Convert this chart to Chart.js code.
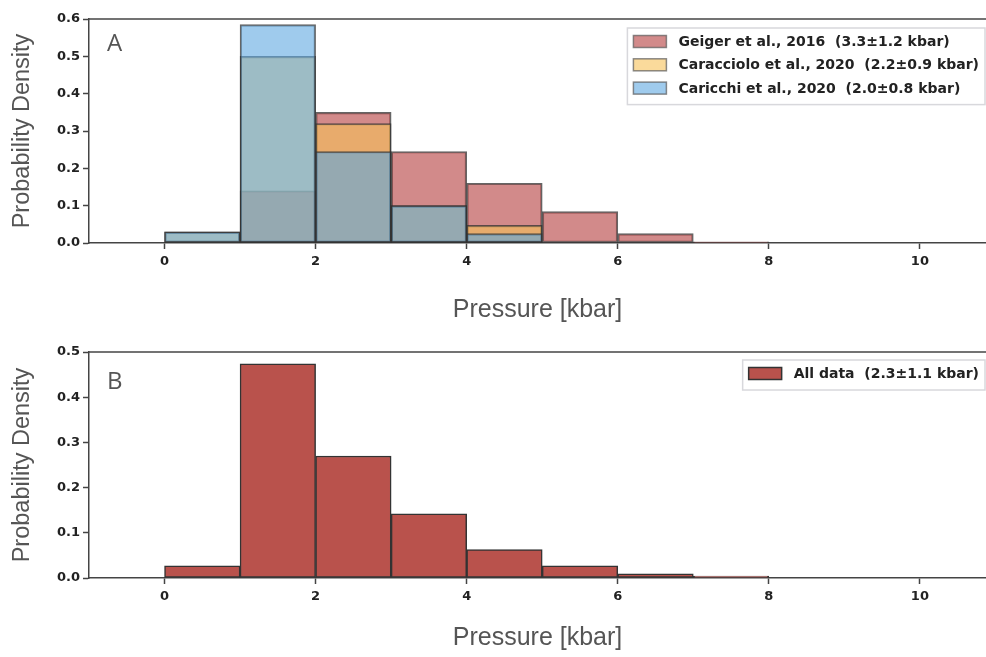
<!DOCTYPE html>
<html>
<head>
<meta charset="utf-8">
<script src="https://cdn.jsdelivr.net/npm/chart.js@4.4.1/dist/chart.umd.min.js"></script>
<style>
  body { margin: 0; background: #fff; }
  #wrap { position: relative; width: 986px; height: 657px; }
  #wrap canvas { position: absolute; left: 0; }
</style>
</head>
<body>
<div id="wrap">
  <canvas id="chart-a" width="986" height="330" style="top:0"></canvas>
  <canvas id="chart-b" width="986" height="327" style="top:330px"></canvas>
</div>
<script>
// Histogram bins (kbar), 1 kbar wide
const binStarts = [0, 1, 2, 3, 4, 5, 6, 7];

// Probability density per bin
const geiger     = [0, 0.14, 0.35, 0.245, 0.16, 0.084, 0.025, 0.003];
const caracciolo = [0.03, 0.50, 0.32, 0.10, 0.047, 0, 0, 0];
const caricchi   = [0.03, 0.585, 0.245, 0.10, 0.025, 0, 0, 0];
const allData    = [0.027, 0.474, 0.27, 0.142, 0.063, 0.027, 0.009, 0.004];

const seriesLabels = [
  'Geiger et al., 2016  (3.3±1.2 kbar)',
  'Caracciolo et al., 2020  (2.2±0.9 kbar)',
  'Caricchi et al., 2020  (2.0±0.8 kbar)'
];
const allLabel = 'All data  (2.3±1.1 kbar)';

const xTicks = [0, 2, 4, 6, 8, 10];
const yTicksA = [0, 0.1, 0.2, 0.3, 0.4, 0.5, 0.6];
const yTicksB = [0, 0.1, 0.2, 0.3, 0.4, 0.5];

const AXIS = '#444';
const TITLE = '#555';

function toPoints(vals) {
  return vals.map((v, i) => ({ x: binStarts[i] + 0.5, y: v }));
}

function histSet(label, vals, fill, edge, order) {
  return {
    label, data: toPoints(vals),
    backgroundColor: fill, borderColor: edge, borderWidth: 1.5,
    borderSkipped: false, grouped: false,
    barPercentage: 1, categoryPercentage: 1, order
  };
}

// top spine, panel letter and a boxed legend inside the plot area
const panelDecor = {
  id: 'panelDecor',
  afterDraw(chart, args, opts) {
    const { ctx, chartArea: a } = chart;
    ctx.save();
    ctx.strokeStyle = AXIS;
    ctx.lineWidth = 1.5;
    ctx.beginPath();
    ctx.moveTo(a.left, a.top);
    ctx.lineTo(a.right, a.top);
    ctx.stroke();

    ctx.fillStyle = TITLE;
    ctx.font = '24px "Open Sans"';
    ctx.textBaseline = 'alphabetic';
    ctx.fillText(opts.letter, a.left + 18, a.top + opts.letterY);

    const items = opts.items;
    ctx.font = 'bold 14px "DejaVu Sans"';
    const textW = Math.max(...items.map(it => ctx.measureText(it.label).width));
    const rowH = 23.3;
    const w = 6 + 33 + 12 + textW + 6;
    const h = 13.5 + (items.length - 1) * rowH + 16.5;
    const right = a.right - 1;
    const left = right - w;
    const top = a.top + opts.legendTop;

    ctx.fillStyle = 'rgba(255,255,255,0.85)';
    ctx.fillRect(left, top, w, h);
    ctx.strokeStyle = '#d8d8dc';
    ctx.lineWidth = 1.5;
    ctx.strokeRect(left, top, w, h);

    items.forEach((it, i) => {
      const cy = top + 13.5 + i * rowH;
      ctx.fillStyle = it.fill;
      ctx.fillRect(left + 6, cy - 6, 33, 12);
      ctx.strokeStyle = it.edge;
      ctx.lineWidth = 1.5;
      ctx.strokeRect(left + 6, cy - 6, 33, 12);
      ctx.fillStyle = '#222';
      ctx.textBaseline = 'middle';
      ctx.fillText(it.label, left + 51, cy + 1);
    });
    ctx.restore();
  }
};

function histOptions(yMax, yTicks, padTop, xHeight, xTitlePad, decor) {
  return {
    responsive: false,
    animation: false,
    layout: { padding: { top: padTop, left: 0, right: 0, bottom: 0 } },
    plugins: {
      legend: { display: false },
      tooltip: { enabled: false },
      panelDecor: decor
    },
    scales: {
      x: {
        type: 'linear', min: -1, max: 10.875, offset: false,
        afterBuildTicks: s => { s.ticks = xTicks.map(v => ({ value: v })); },
        afterFit: s => { s.height = xHeight; },
        grid: { offset: false, drawOnChartArea: false, drawTicks: true, tickLength: 6, tickColor: AXIS, tickWidth: 1.5 },
        border: { display: true, color: AXIS, width: 1.5 },
        ticks: { color: '#222', padding: 5, maxRotation: 0, font: { family: 'DejaVu Sans', weight: 'bold', size: 13 } },
        title: {
          display: true, text: 'Pressure [kbar]', color: TITLE,
          font: { family: 'Liberation Sans', size: 25 },
          padding: { top: 0, bottom: xTitlePad }
        }
      },
      y: {
        min: 0, max: yMax,
        afterBuildTicks: s => { s.ticks = yTicks.map(v => ({ value: v })); },
        afterFit: s => { s.width = 89; },
        grid: { drawOnChartArea: false, drawTicks: true, tickLength: 6, tickColor: AXIS, tickWidth: 1.5 },
        border: { display: true, color: AXIS, width: 1.5 },
        ticks: {
          color: '#222', padding: 3,
          font: { family: 'DejaVu Sans', weight: 'bold', size: 13 },
          callback: v => Number(v).toFixed(1)
        },
        title: {
          display: true, text: 'Probability Density', color: TITLE,
          font: { family: 'Liberation Sans', size: 23.5 },
          padding: { top: 8, bottom: 0 }
        }
      }
    }
  };
}

const fills = ['rgba(180,60,60,0.6)', 'rgba(247,193,88,0.6)', 'rgba(95,169,225,0.6)'];
const edge = 'rgba(50,50,50,0.75)';

// panel A: three studies overlaid, Caricchi drawn on top
new Chart(document.getElementById('chart-a'), {
  type: 'bar',
  data: {
    datasets: [
      histSet(seriesLabels[0], geiger, fills[0], edge, 3),
      histSet(seriesLabels[1], caracciolo, fills[1], edge, 2),
      histSet(seriesLabels[2], caricchi, fills[2], edge, 1)
    ]
  },
  options: histOptions(0.6, yTicksA, 19, 87, 5, {
    letter: 'A', letterY: 32, legendTop: 9,
    items: seriesLabels.map((l, i) => ({ label: l, fill: fills[i], edge: 'rgba(90,90,90,0.7)' }))
  }),
  plugins: [panelDecor]
});

// panel B: pooled data
new Chart(document.getElementById('chart-b'), {
  type: 'bar',
  data: {
    datasets: [histSet(allLabel, allData, '#b9524c', '#333', 1)]
  },
  options: histOptions(0.5, yTicksB, 22, 79, 4, {
    letter: 'B', letterY: 37, legendTop: 8,
    items: [{ label: allLabel, fill: '#b9524c', edge: '#333' }]
  }),
  plugins: [panelDecor]
});
</script>
</body>
</html>
